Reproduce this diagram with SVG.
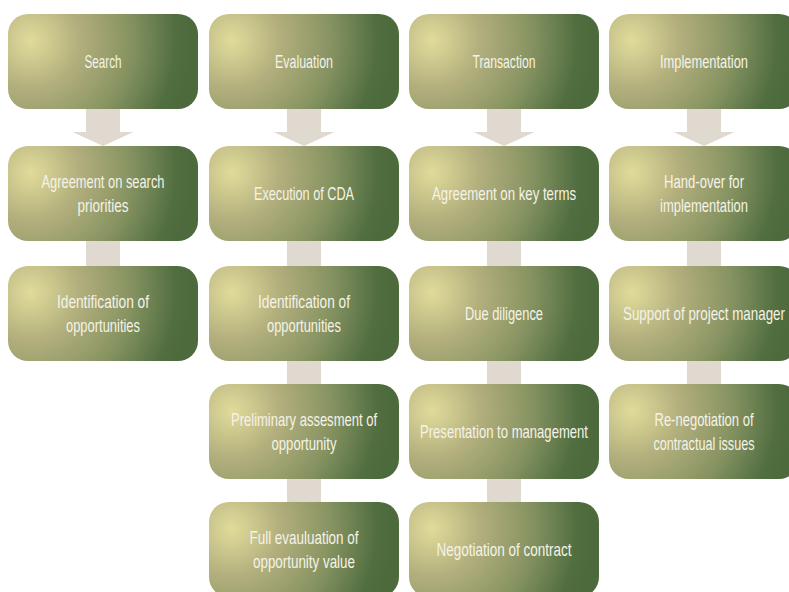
<svg xmlns="http://www.w3.org/2000/svg" width="789" height="592" viewBox="0 0 789 592">
<defs>
<radialGradient id="g" cx="0.12" cy="0.28" r="0.85" gradientTransform="matrix(1 0 0 2 0 -0.28)">
<stop offset="0" stop-color="#e1db9a"/>
<stop offset="0.3" stop-color="#b2af7d"/>
<stop offset="0.62" stop-color="#869361"/>
<stop offset="0.9" stop-color="#516e41"/>
<stop offset="1" stop-color="#4d6a3d"/>
</radialGradient>
<style>
.box{fill:url(#g);}
.con{fill:#e0d9d0;}
text{font-family:"Liberation Sans",Arial,sans-serif;font-size:19px;fill:#f5f3e8;text-anchor:middle;}
</style>
</defs>
<rect width="789" height="592" fill="#ffffff"/>
<g id="connectors">
<path class="con" d="M86,105H120V132H133.5L103,146L72.5,132H86Z"/>
<path class="con" d="M287,105H321V132H334.5L304,146L273.5,132H287Z"/>
<path class="con" d="M487,105H521V132H534.5L504,146L473.5,132H487Z"/>
<path class="con" d="M687,105H721V132H734.5L704,146L673.5,132H687Z"/>
<rect class="con" x="86" y="236" width="34" height="35"/>
<rect class="con" x="287" y="236" width="34" height="35"/>
<rect class="con" x="287" y="356" width="34" height="33"/>
<rect class="con" x="287" y="474" width="34" height="33"/>
<rect class="con" x="487" y="236" width="34" height="35"/>
<rect class="con" x="487" y="356" width="34" height="33"/>
<rect class="con" x="487" y="474" width="34" height="33"/>
<rect class="con" x="687" y="236" width="34" height="35"/>
<rect class="con" x="687" y="356" width="34" height="33"/>
</g>
<g id="search"><rect class="box" x="8" y="14" width="190" height="95" rx="20"/><text x="103" y="67.5" textLength="37" lengthAdjust="spacingAndGlyphs">Search</text></g>
<g id="evaluation"><rect class="box" x="209" y="14" width="190" height="95" rx="20"/><text x="304" y="67.5" textLength="58" lengthAdjust="spacingAndGlyphs">Evaluation</text></g>
<g id="transaction"><rect class="box" x="409" y="14" width="190" height="95" rx="20"/><text x="504" y="67.5" textLength="63" lengthAdjust="spacingAndGlyphs">Transaction</text></g>
<g id="implementation"><rect class="box" x="609" y="14" width="190" height="95" rx="20"/><text x="704" y="67.5" textLength="88" lengthAdjust="spacingAndGlyphs">Implementation</text></g>

<g id="agreement-search"><rect class="box" x="8" y="146" width="190" height="95" rx="20"/><text x="103" y="188" textLength="123" lengthAdjust="spacingAndGlyphs">Agreement on search</text><text x="103" y="212" textLength="51" lengthAdjust="spacingAndGlyphs">priorities</text></g>
<g id="execution-cda"><rect class="box" x="209" y="146" width="190" height="95" rx="20"/><text x="304" y="199.5" textLength="100" lengthAdjust="spacingAndGlyphs">Execution of CDA</text></g>
<g id="agreement-terms"><rect class="box" x="409" y="146" width="190" height="95" rx="20"/><text x="504" y="199.5" textLength="144" lengthAdjust="spacingAndGlyphs">Agreement on key terms</text></g>
<g id="hand-over"><rect class="box" x="609" y="146" width="190" height="95" rx="20"/><text x="704" y="188" textLength="80" lengthAdjust="spacingAndGlyphs">Hand-over for</text><text x="704" y="212" textLength="88" lengthAdjust="spacingAndGlyphs">implementation</text></g>

<g id="identification-1"><rect class="box" x="8" y="266" width="190" height="95" rx="20"/><text x="103" y="308" textLength="92" lengthAdjust="spacingAndGlyphs">Identification of</text><text x="103" y="332" textLength="74" lengthAdjust="spacingAndGlyphs">opportunities</text></g>
<g id="identification-2"><rect class="box" x="209" y="266" width="190" height="95" rx="20"/><text x="304" y="308" textLength="92" lengthAdjust="spacingAndGlyphs">Identification of</text><text x="304" y="332" textLength="74" lengthAdjust="spacingAndGlyphs">opportunities</text></g>
<g id="due-diligence"><rect class="box" x="409" y="266" width="190" height="95" rx="20"/><text x="504" y="319.5" textLength="78" lengthAdjust="spacingAndGlyphs">Due diligence</text></g>
<g id="support-pm"><rect class="box" x="609" y="266" width="190" height="95" rx="20"/><text x="704" y="319.5" textLength="162" lengthAdjust="spacingAndGlyphs">Support of project manager</text></g>

<g id="preliminary"><rect class="box" x="209" y="384" width="190" height="95" rx="20"/><text x="304" y="426" textLength="146" lengthAdjust="spacingAndGlyphs">Preliminary assesment of</text><text x="304" y="450" textLength="65" lengthAdjust="spacingAndGlyphs">opportunity</text></g>
<g id="presentation"><rect class="box" x="409" y="384" width="190" height="95" rx="20"/><text x="504" y="437.5" textLength="168" lengthAdjust="spacingAndGlyphs">Presentation to management</text></g>
<g id="renegotiation"><rect class="box" x="609" y="384" width="190" height="95" rx="20"/><text x="704" y="426" textLength="99" lengthAdjust="spacingAndGlyphs">Re-negotiation of</text><text x="704" y="450" textLength="101" lengthAdjust="spacingAndGlyphs">contractual issues</text></g>

<g id="full-evaluation"><rect class="box" x="209" y="502" width="190" height="95" rx="20"/><text x="304" y="544" textLength="109" lengthAdjust="spacingAndGlyphs">Full evauluation of</text><text x="304" y="568" textLength="102" lengthAdjust="spacingAndGlyphs">opportunity value</text></g>
<g id="negotiation"><rect class="box" x="409" y="502" width="190" height="95" rx="20"/><text x="504" y="555.5" textLength="135" lengthAdjust="spacingAndGlyphs">Negotiation of contract</text></g>
</svg>
